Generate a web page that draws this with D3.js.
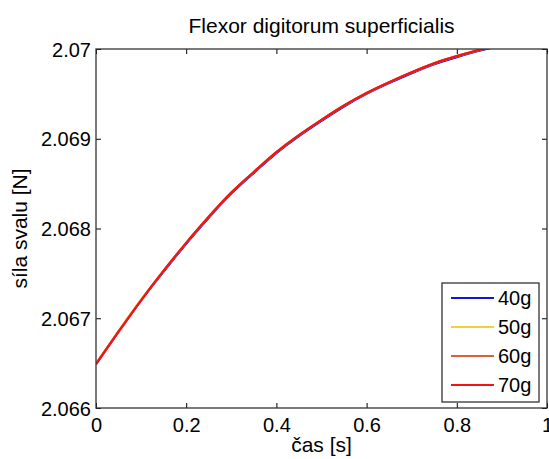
<!DOCTYPE html>
<html><head><meta charset="utf-8">
<script src="https://cdn.jsdelivr.net/npm/d3@7"></script>
<style>body{margin:0;background:#fff}svg{display:block}text{font-family:"Liberation Sans",Arial,sans-serif;fill:#000}</style>
</head><body>
<svg id="c" width="549" height="459"></svg>
<script>
const times = [0,0.05,0.1,0.15,0.2,0.25,0.3,0.35,0.4,0.45,0.5,0.55,0.6,0.65,0.7,0.75,0.8,0.85,0.9];
const s40 = [2.06649,2.06685,2.06720,2.06752,2.06783,2.06812,2.06839,2.06862,2.06884,2.06903,2.06920,2.06936,2.06950,2.06962,2.06973,2.06983,2.06991,2.06998,2.07004];
const s50 = [2.06649,2.06686,2.06721,2.06753,2.06784,2.06813,2.06840,2.06863,2.06885,2.06904,2.06921,2.06937,2.06951,2.06963,2.06974,2.06984,2.06992,2.06999,2.07005];
const s60 = [2.06649,2.06685,2.06720,2.06753,2.06784,2.06813,2.06840,2.06863,2.06885,2.06904,2.06921,2.06937,2.06951,2.06963,2.06974,2.06984,2.06992,2.06999,2.07005];
const s70 = [2.06649,2.06685,2.06720,2.06753,2.06784,2.06813,2.06840,2.06863,2.06885,2.06904,2.06921,2.06937,2.06951,2.06963,2.06974,2.06984,2.06992,2.06999,2.07005];
const seriesNames = ["40g","50g","60g","70g"];
const seriesColors = ["#1414d2","#f0d040","#d8603a","#f01414"];
const xTicks = [0,0.2,0.4,0.6,0.8,1];
const yTicks = [2.066,2.067,2.068,2.069,2.07];
const title = "Flexor digitorum superficialis";
const xLabel = "čas [s]";
const yLabel = "síla svalu [N]";

const FONT = "'Liberation Sans',Arial,sans-serif";
const svg = d3.select("#c");
const L=96,R=547,T=49,B=408;
const x = d3.scaleLinear().domain([0,1]).range([L,R]);
const y = d3.scaleLinear().domain([2.066,2.07]).range([B,T]);

svg.append("defs").append("clipPath").attr("id","clip").append("rect")
  .attr("x",L).attr("y",T).attr("width",R-L).attr("height",B-T);

const fmtX = d => d===0?"0":d===1?"1":String(d);
const fmtY = d => String(+d.toFixed(3));

const gx = svg.append("g").attr("transform",`translate(0,${B})`)
  .call(d3.axisBottom(x).tickValues(xTicks).tickFormat(fmtX).tickSizeInner(-5).tickSizeOuter(0).tickPadding(0));
const gxTop = svg.append("g").attr("transform",`translate(0,${T})`)
  .call(d3.axisTop(x).tickValues(xTicks).tickFormat("").tickSizeInner(-5).tickSizeOuter(0));
const gy = svg.append("g").attr("transform",`translate(${L},0)`)
  .call(d3.axisLeft(y).tickValues(yTicks).tickFormat(fmtY).tickSizeInner(-5).tickSizeOuter(0).tickPadding(0));
const gyR = svg.append("g").attr("transform",`translate(${R},0)`)
  .call(d3.axisRight(y).tickValues(yTicks).tickFormat("").tickSizeInner(-5).tickSizeOuter(0));
[gx,gxTop,gy,gyR].forEach(g=>{
  g.select(".domain").remove();
  g.selectAll("line").attr("stroke","#000");
  g.selectAll("text").attr("font-size",20).style("font-family",FONT);
});
gx.selectAll("text").attr("y",24).attr("dy",null);
gy.selectAll("text").attr("x",-5).attr("dy","0.35em");

const all = [s40,s50,s60,s70];
const line = d3.line().x((d,i)=>x(times[i])).y(d=>y(d)).curve(d3.curveNatural);
svg.append("g").attr("clip-path","url(#clip)").selectAll("path").data(all).join("path")
  .attr("d",line).attr("fill","none").attr("stroke",(d,i)=>seriesColors[i]).attr("stroke-width",2.2);

svg.append("rect").attr("x",L).attr("y",T).attr("width",R-L).attr("height",B-T)
  .attr("fill","none").attr("stroke","#333").attr("stroke-width",1.3);

svg.append("text").attr("x",(L+R)/2).attr("y",33).attr("text-anchor","middle").attr("font-size",21).text(title);
svg.append("text").attr("x",(L+R)/2).attr("y",452).attr("text-anchor","middle").attr("font-size",21).text(xLabel);
svg.append("text").attr("transform",`translate(27,${(T+B)/2}) rotate(-90)`).attr("text-anchor","middle").attr("font-size",21).text(yLabel);

const lg = svg.append("g");
lg.append("rect").attr("x",442).attr("y",283).attr("width",97).attr("height",119)
  .attr("fill","#fff").attr("stroke","#333").attr("stroke-width",1.3);
seriesNames.forEach((n,i)=>{
  const yy = 298 + i*29;
  lg.append("line").attr("x1",451).attr("x2",494).attr("y1",yy).attr("y2",yy)
    .attr("stroke",seriesColors[i]).attr("stroke-width",2);
  lg.append("text").attr("x",498).attr("y",yy).attr("dy","0.35em").attr("font-size",20).text(n);
});
</script>
</body></html>
